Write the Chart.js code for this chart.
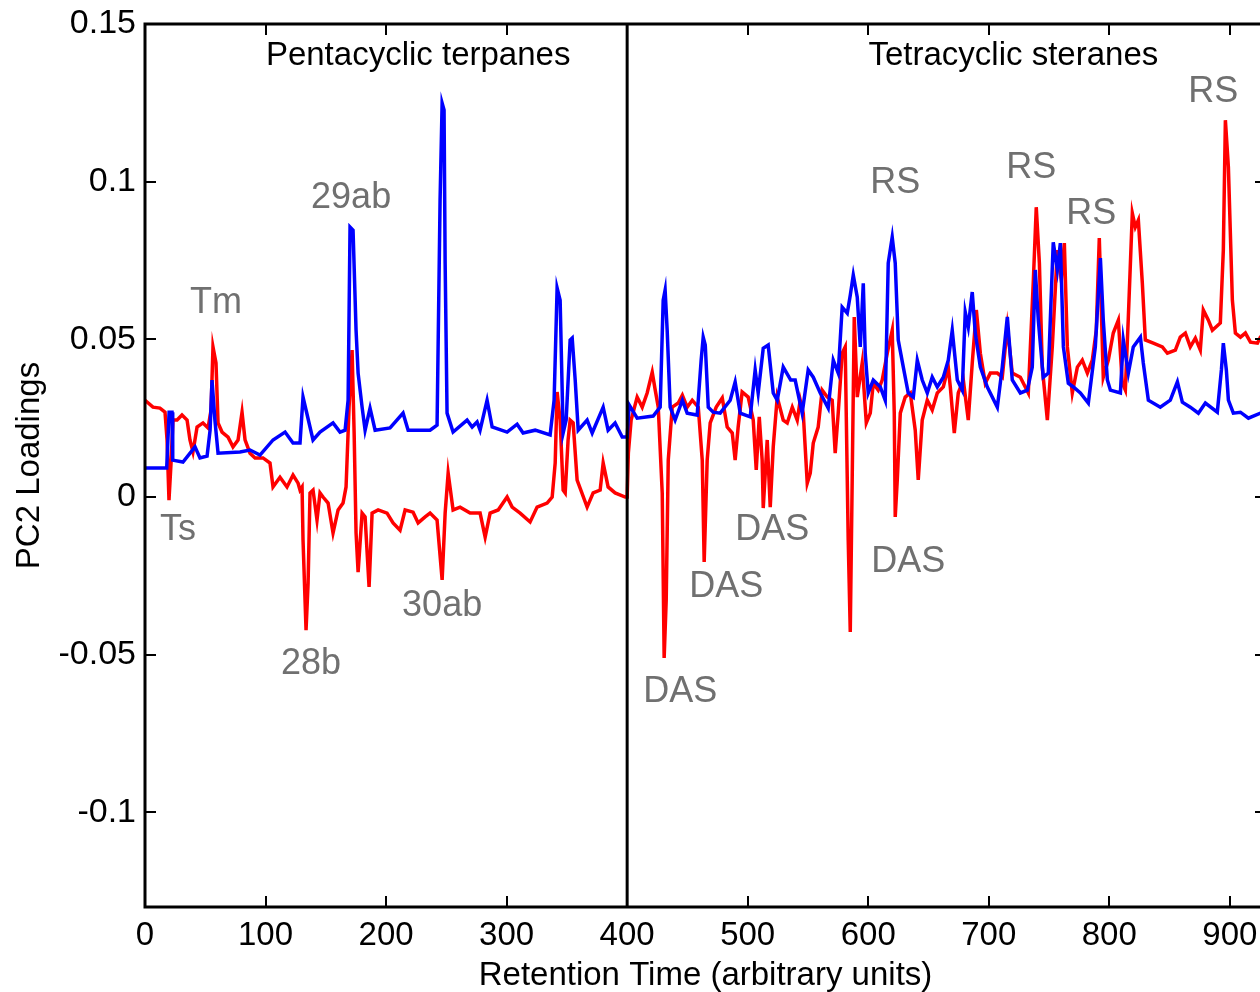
<!DOCTYPE html>
<html><head><meta charset="utf-8">
<script src="https://cdn.jsdelivr.net/npm/chart.js@4.4.1/dist/chart.umd.min.js"></script>
<style>
html,body{margin:0;padding:0;background:#fff;overflow:hidden;width:1260px;height:992px}
#wrap{position:relative;width:1266px;height:992px}
canvas{display:block}
</style></head><body>
<div id="wrap"><canvas id="c" width="1266" height="992"></canvas></div>
<script>
// ---- data (retention time, PC2 loading) ----
const blueX = [0,18,20,22.4,23,31.5,41.5,45.6,51.5,54,55.6,58,60.6,78.8,87.1,95.4,106.2,116.2,122.8,128.6,131.1,133.6,139.4,145.2,156,161.8,166,168.5,170.1,172.6,175.1,176.8,180.1,182.6,186.7,190.9,203.3,214.1,218.3,236.5,242.3,244.8,246.5,248.1,249,250.6,255.6,267.2,271.4,275.5,278,283.8,288,300.4,308.7,313.7,323.7,336.1,339.4,341.9,344.4,346.9,349.4,352.7,354.4,356.9,359.4,366.8,371,380.1,384.2,390,395.9,400,
401.7,408.3,421.6,427.4,429.9,431.5,433.2,435.7,439.8,445.8,449.8,458.1,461.4,463.1,464.8,467.3,471.4,477.2,485.5,489.6,493.8,502.1,506.2,508.7,512.9,517,521.2,524.5,529.5,535.7,539.4,545.2,550.2,554.4,560.2,566.8,571,575.1,578.4,582.6,585.1,587.6,590.9,593.4,595.9,597.5,600,604.2,610,614.1,616.6,619.9,622.4,624.9,629.1,633.2,637.4,640.7,644.8,649,653.1,657.3,662.3,666.4,669.7,673.9,678,680.5,683,686.3,688.8,693,698.8,707.1,711.2,715.4,719.5,726.2,732,736.1,738.6,741.1,745.2,749.4,753.5,756.9,759.4,761.9,766,770.2,776,782.6,788.4,792.6,795,798.4,800.9,809.2,811.6,815.8,819.9,825.8,828.2,832.4,842.3,850.6,856.5,860.6,867.2,873.9,879.7,889.6,893,894.6,897.1,898.8,902.9,908.8,915.4,925.3,930];
const blueY = [0.0092,0.0092,0.0269,0.0269,0.0117,0.0111,0.0159,0.0124,0.0130,0.0212,0.0371,0.0244,0.0139,0.0143,0.0149,0.0133,0.0181,0.0206,0.0171,0.0171,0.0317,0.0276,0.0181,0.0206,0.0235,0.0206,0.0212,0.0307,0.0856,0.0846,0.0529,0.0393,0.0285,0.0212,0.0282,0.0212,0.0219,0.0266,0.0212,0.0212,0.0228,0.0941,0.1249,0.1227,0.0742,0.0266,0.0206,0.0244,0.0222,0.0238,0.0212,0.0307,0.0222,0.0206,0.0231,0.0203,0.0212,0.0197,0.0307,0.0663,0.0624,0.0203,0.0244,0.0498,0.0504,0.0371,0.0212,0.0244,0.0203,0.0285,0.0212,0.0235,0.0190,0.0190,
0.0292,0.0250,0.0257,0.0285,0.0624,0.0656,0.0529,0.0285,0.0244,0.0307,0.0266,0.0260,0.0434,0.0507,0.0482,0.0285,0.0269,0.0266,0.0307,0.0365,0.0266,0.0254,0.0403,0.0330,0.0472,0.0482,0.0330,0.0307,0.0412,0.0371,0.0371,0.0266,0.0403,0.0380,0.0330,0.0282,0.0434,0.0393,0.0602,0.0583,0.0640,0.0704,0.0634,0.0476,0.0678,0.0456,0.0330,0.0371,0.0349,0.0307,0.0742,0.0824,0.0742,0.0498,0.0412,0.0330,0.0317,0.0434,0.0371,0.0330,0.0380,0.0349,0.0380,0.0434,0.0529,0.0371,0.0339,0.0586,0.0539,0.0650,0.0520,0.0412,0.0349,0.0285,0.0412,0.0571,0.0371,0.0330,0.0339,0.0412,0.0720,0.0561,0.0380,0.0393,0.0808,0.0720,0.0805,0.0476,0.0361,0.0349,0.0330,0.0298,0.0476,0.0758,0.0561,0.0371,0.0339,0.0330,0.0498,0.0393,0.0476,0.0507,0.0425,0.0307,0.0285,0.0307,0.0365,0.0301,0.0285,0.0266,0.0298,0.0269,0.0403,0.0488,0.0403,0.0307,0.0266,0.0269,0.0250,0.0266,0.0266];
const redX = [0,6.6,12.4,16.6,18.3,19.9,21.6,23.2,26.6,30.7,34.9,37.3,39.8,43.2,48.1,52.3,54.8,56.4,58.9,60.6,63.9,68.9,73,77.2,80.5,83,87.1,91.3,97.9,103.7,106.2,112,117.8,122.8,127,128.6,130.3,131.1,133.6,135.3,136.9,139.4,142.7,145.2,147.7,151.9,156,160.2,164.3,166.8,169.3,171.8,173.5,175.1,176.8,180.1,182.6,185.9,188.4,193.4,200.8,205.8,211.6,215.8,222.4,226.6,232.4,236.5,242.3,246.5,249,251.5,255.6,261.4,269.7,278,282.2,286.3,293,300.4,304.6,311.2,319.5,325.3,333.6,337.8,340.3,341.9,344.4,346.9,348.6,351,352.7,355.2,358.5,366.8,371.8,377.6,380.1,384.2,390,398.4,400,
401,403.3,408.3,412.5,416.6,420.8,423.3,425.8,429.1,430.7,432.4,434.1,437.4,442.4,445.8,449.8,454,459,462.3,463.9,466.4,468.9,473.9,478.9,483,487.2,489.6,492.1,495.4,500.4,504.6,507.1,509.6,512,512.9,516.2,518.7,521.2,524.5,529.5,532.8,537,541.1,543.6,546.1,549.4,551.9,554.4,558.5,561.8,566,570.1,572.6,575.1,578.4,580.9,583.4,585.1,586.7,588.4,590.9,595,598.4,601.7,604.2,608.3,611.6,615.8,619.9,621.6,622.4,624.1,626.6,630.7,634.9,639,641.5,644.8,649,653.1,657.3,662.3,666.4,668.1,671.4,674.7,678.9,683,686.3,689.7,693,697.1,701.3,707.1,711.2,715.4,719.5,726.2,732.8,737,739.4,742,744.4,748.6,752.7,756.9,760.2,762.7,765.2,769.3,773.5,777.6,781.8,785.9,789.2,791.7,795,799.2,803.3,807.5,810.8,813.3,815.8,819.1,821.6,824.1,827.4,829.9,836.5,844,848.2,854.8,858.9,863.1,867.2,871.4,875.5,878,882.2,885.5,892.1,894.6,896.3,898.8,902.1,904.6,908.8,912.9,917.1,922.9,925.3,930];
const redY = [0.0307,0.0285,0.0282,0.0269,0.0181,-0.0010,0.0108,0.0244,0.0244,0.0260,0.0244,0.0181,0.0143,0.0222,0.0235,0.0219,0.0276,0.0476,0.0425,0.0235,0.0206,0.0190,0.0159,0.0181,0.0269,0.0181,0.0139,0.0124,0.0124,0.0108,0.0032,0.0063,0.0032,0.0070,0.0044,0.0022,0.0032,-0.0136,-0.0422,-0.0273,0.0013,0.0022,-0.0073,0.0013,0,-0.0019,-0.0114,-0.0041,-0.0019,0.0032,0.0285,0.0466,0.0203,-0.0114,-0.0238,-0.0051,-0.0063,-0.0285,-0.0051,-0.0041,-0.0051,-0.0082,-0.0105,-0.0041,-0.0048,-0.0082,-0.0063,-0.0051,-0.0073,-0.0263,-0.0051,0.0076,-0.0041,-0.0032,-0.0051,-0.0051,-0.0127,-0.0051,-0.0041,0,-0.0032,-0.0051,-0.0079,-0.0032,-0.0019,0,0.0108,0.0333,0.0244,0.0022,0.0013,0.0181,0.0244,0.0235,0.0054,-0.0032,0.0013,0.0022,0.0108,0.0032,0.0013,0,0,
0.0139,0.0244,0.0317,0.0285,0.0330,0.0396,0.0339,0.0285,0.0013,-0.0510,-0.0327,0.0117,0.0285,0.0298,0.0323,0.0285,0.0307,0.0285,0.0117,-0.0206,0.0117,0.0235,0.0285,0.0314,0.0222,0.0203,0.0117,0.0222,0.0333,0.0317,0.0244,0.0086,0.0254,0.0117,-0.0035,0.0181,-0.0032,0.0159,0.0317,0.0244,0.0235,0.0285,0.0244,0.0307,0.0266,0.0044,0.0076,0.0171,0.0222,0.0339,0.0317,0.0307,0.0139,0.0266,0.0456,0.0476,-0.0136,-0.0428,0.0054,0.0571,0.0317,0.0425,0.0235,0.0266,0.0361,0.0339,0.0371,0.0456,0.0529,0.0266,-0.0063,0.0054,0.0266,0.0317,0.0330,0.0212,0.0054,0.0244,0.0307,0.0276,0.0330,0.0349,0.0412,0.0349,0.0203,0.0330,0.0371,0.0244,0.0425,0.0593,0.0456,0.0361,0.0393,0.0393,0.0380,0.0539,0.0393,0.0380,0.0330,0.0688,0.0919,0.0742,0.0412,0.0244,0.0476,0.0783,0.0688,0.0805,0.0476,0.0330,0.0412,0.0434,0.0393,0.0434,0.0529,0.0821,0.0380,0.0434,0.0520,0.0561,0.0361,0.0339,0.0571,0.0900,0.0856,0.0878,0.0678,0.0498,0.0488,0.0476,0.0456,0.0466,0.0507,0.0520,0.0476,0.0504,0.0466,0.0593,0.0561,0.0529,0.0552,0.0783,0.1195,0.1046,0.0624,0.0520,0.0507,0.0520,0.0491,0.0488,0.0507,0.0507];

const xTicks = [0,100,200,300,400,500,600,700,800,900];
const yTicks = [-0.1,-0.05,0,0.05,0.1,0.15];
const xRange = [0, 930];
const yRange = [-0.13, 0.15];
const dividerX = 400;

const peakLabels = ['Tm','Ts','29ab','28b','30ab','DAS','DAS','DAS','DAS','RS','RS','RS','RS'];
const peakLabelX = [58.9,27.4,171,137.8,246.5,444,482.2,520.3,633.2,622.4,735.3,785.1,886.3];
const peakLabelY = [0.0615,-0.0105,0.0948,-0.0529,-0.0346,-0.0618,-0.0285,-0.0105,-0.0206,0.0995,0.1043,0.0897,0.1284];
const panelTitles = ['Pentacyclic terpanes','Tetracyclic steranes'];
const panelTitleX = [226.6,720.4];
const panelTitleY = [0.1398,0.1398];

const FONT = "'Liberation Sans', Arial, Helvetica, sans-serif";

const framePlugin = {
  id: 'frame',
  afterDatasetsDraw(chart) {
    const {ctx, chartArea: a, scales: {x, y}} = chart;
    ctx.save();
    ctx.strokeStyle = '#000';
    ctx.lineWidth = 2;
    const tl = 11;
    ctx.beginPath();
    xTicks.forEach(v => {
      const p = Math.round(x.getPixelForValue(v));
      ctx.moveTo(p, a.bottom); ctx.lineTo(p, a.bottom - tl);
      ctx.moveTo(p, a.top); ctx.lineTo(p, a.top + tl);
    });
    yTicks.forEach(v => {
      const p = Math.round(y.getPixelForValue(v));
      ctx.moveTo(a.left, p); ctx.lineTo(a.left + tl, p);
      ctx.moveTo(a.right, p); ctx.lineTo(a.right - tl, p);
    });
    ctx.stroke();
    ctx.lineWidth = 3;
    const d = x.getPixelForValue(dividerX);
    ctx.beginPath();
    ctx.moveTo(d, a.top); ctx.lineTo(d, a.bottom);
    ctx.stroke();
    ctx.strokeRect(a.left, a.top, a.right - a.left, a.bottom - a.top);

    ctx.textAlign = 'center';
    ctx.textBaseline = 'middle';
    ctx.fillStyle = '#707070';
    ctx.font = '36px ' + FONT;
    peakLabels.forEach((t, i) => {
      ctx.fillText(t, x.getPixelForValue(peakLabelX[i]), y.getPixelForValue(peakLabelY[i]));
    });
    ctx.fillStyle = '#000';
    ctx.font = '33px ' + FONT;
    panelTitles.forEach((t, i) => {
      ctx.fillText(t, x.getPixelForValue(panelTitleX[i]), y.getPixelForValue(panelTitleY[i]));
    });
    ctx.restore();
  }
};

new Chart(document.getElementById('c'), {
  type: 'line',
  data: {
    datasets: [
      { label: 'Blue', data: blueX.map((v, i) => ({x: v, y: blueY[i]})),
        borderColor: '#0000ff', borderWidth: 3.5, pointRadius: 0, tension: 0, fill: false },
      { label: 'Red', data: redX.map((v, i) => ({x: v, y: redY[i]})),
        borderColor: '#ff0000', borderWidth: 3.5, pointRadius: 0, tension: 0, fill: false }
    ]
  },
  options: {
    responsive: false,
    animation: false,
    devicePixelRatio: 1,
    layout: { padding: { top: 24, left: 0, right: 0, bottom: 0 } },
    plugins: { legend: { display: false }, tooltip: { enabled: false } },
    scales: {
      x: {
        type: 'linear', min: xRange[0], max: xRange[1],
        afterBuildTicks: s => { s.ticks = xTicks.map(v => ({value: v})); },
        afterFit: s => { s.height = 85; s.paddingLeft = 0; s.paddingRight = 0; },
        grid: { display: false, drawTicks: false },
        border: { display: false },
        ticks: { autoSkip: false, maxRotation: 0,
                 color: '#000', padding: 9, font: { family: FONT, size: 33 } },
        title: { display: true, text: 'Retention Time (arbitrary units)', color: '#000',
                 font: { family: FONT, size: 33, lineHeight: 1.0 }, padding: { top: 0, bottom: 0 } }
      },
      y: {
        type: 'linear', min: yRange[0], max: yRange[1],
        afterBuildTicks: s => { s.ticks = yTicks.map(v => ({value: v})); },
        afterFit: s => { s.width = 145; s.paddingTop = 0; s.paddingBottom = 0; },
        grid: { display: false, drawTicks: false },
        border: { display: false },
        ticks: { color: '#000', padding: 9,
                 font: { family: FONT, size: 34 },
                 callback: v => String(+Number(v).toFixed(2)) },
        title: { display: true, text: 'PC2 Loadings', color: '#000',
                 font: { family: FONT, size: 33, lineHeight: 1.2 }, padding: { top: 10, bottom: 0 } }
      }
    }
  },
  plugins: [framePlugin]
});
</script>
</body></html>
